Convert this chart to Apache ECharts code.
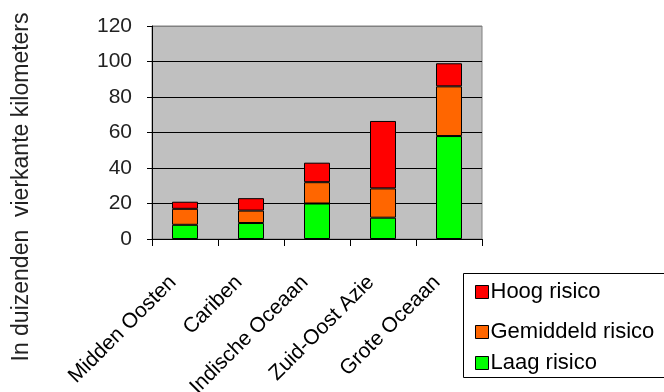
<!DOCTYPE html>
<html>
<head>
<meta charset="utf-8">
<script src="https://cdn.jsdelivr.net/npm/echarts@6/dist/echarts.min.js"></script>
<style>
  html, body { margin: 0; padding: 0; background: #fff; }
  #chart { width: 664px; height: 392px; }
</style>
</head>
<body>
<div id="chart"></div>
<script>
// Regions and surface per risk class (thousands of km²)
const regions = ['Midden Oosten', 'Cariben', 'Indische Oceaan', 'Zuid-Oost Azie', 'Grote Oceaan'];
const laagRisico = [8, 9, 20, 12, 58];
const gemiddeldRisico = [9, 7, 12, 16.5, 28];
const hoogRisico = [4, 7, 11, 38, 13];
const yTicks = { min: 0, max: 120, step: 20 };

const FONT = 'Arial, "Liberation Sans", sans-serif';

const chart = echarts.init(document.getElementById('chart'), null, { renderer: 'canvas' });

function barSeries(name, data, color) {
  return {
    name: name,
    type: 'bar',
    stack: 'total',
    barWidth: 26,
    data: data,
    itemStyle: { color: color, borderColor: '#000', borderWidth: 1 },
    emphasis: { disabled: true }
  };
}

// one legend entry per block so each row can sit at its own height
function legendRow(name, top) {
  return {
    orient: 'vertical',
    left: 470, top: top,
    itemWidth: 13, itemHeight: 13,
    icon: 'rect',
    selectedMode: false,
    data: [name],
    itemStyle: { borderColor: '#000', borderWidth: 1 },
    textStyle: { color: '#000', fontFamily: FONT, fontSize: 22, lineHeight: 24, padding: [0, 0, 0, -3] }
  };
}

// grid lines black, the top one (at max) in the same grey as the frame
const nLines = (yTicks.max - yTicks.min) / yTicks.step + 1;
const splitColors = [];
for (let i = 0; i < nLines; i++) splitColors.push(i === nLines - 1 ? '#808080' : '#000');

chart.setOption({
  animation: false,
  backgroundColor: '#fff',
  grid: {
    left: 152, right: 182, top: 26, bottom: 153,
    containLabel: false, outerBoundsMode: 'none',
    show: true, backgroundColor: '#C0C0C0', borderColor: '#808080', borderWidth: 1
  },
  xAxis: {
    type: 'category',
    data: regions,
    axisLine: { show: true, lineStyle: { color: '#000', width: 1 } },
    axisTick: { show: true, length: 7, lineStyle: { color: '#000' } },
    axisLabel: {
      rotate: 45, margin: 28, interval: 0,
      padding: [0, 17, 0, 0],
      color: '#000', fontFamily: FONT, fontSize: 21
    },
    splitLine: { show: false }
  },
  yAxis: {
    type: 'value',
    min: yTicks.min, max: yTicks.max, interval: yTicks.step,
    axisLine: { show: true, lineStyle: { color: '#000', width: 1 } },
    axisTick: { show: true, length: 5, lineStyle: { color: '#000' } },
    axisLabel: { margin: 20, color: '#222', fontFamily: FONT, fontSize: 21 },
    splitLine: { show: true, lineStyle: { color: splitColors, width: 1 } }
  },
  legend: [
    legendRow('Hoog risico', 275),
    legendRow('Gemiddeld risico', 315),
    legendRow('Laag risico', 346)
  ],
  graphic: [
    {
      type: 'rect', silent: true, z: -1,
      shape: { x: 463.5, y: 273.5, width: 260, height: 104 },
      style: { fill: '#fff', stroke: '#000', lineWidth: 1 }
    },
    {
      type: 'text', silent: true,
      x: 22, y: 187, rotation: Math.PI / 2,
      style: {
        text: 'In duizenden  vierkante kilometers',
        fill: '#222', font: '23px ' + FONT,
        align: 'center', verticalAlign: 'middle'
      }
    }
  ],
  series: [
    barSeries('Laag risico', laagRisico, '#00FF00'),
    barSeries('Gemiddeld risico', gemiddeldRisico, '#FF6600'),
    barSeries('Hoog risico', hoogRisico, '#FF0000')
  ]
});
</script>
</body>
</html>
